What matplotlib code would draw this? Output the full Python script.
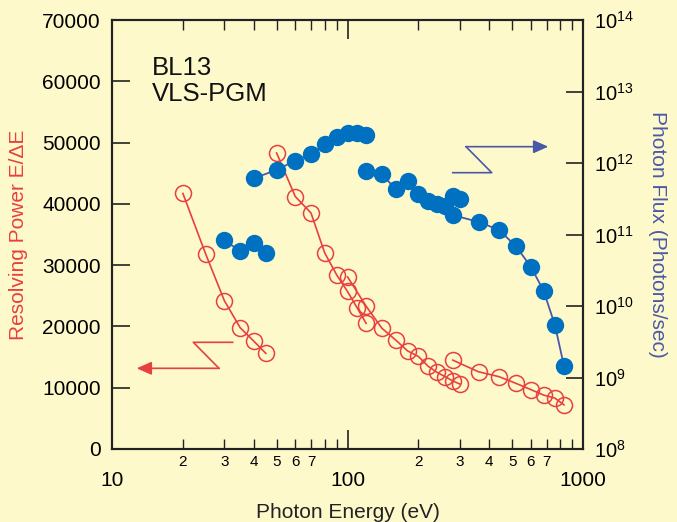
import matplotlib
matplotlib.use("Agg")
import matplotlib.pyplot as plt
from matplotlib.ticker import FixedLocator, FixedFormatter

plt.rcParams['font.family'] = ['Liberation Sans', 'DejaVu Sans']
plt.rcParams['mathtext.fontset'] = 'custom'
plt.rcParams['mathtext.rm'] = 'Liberation Sans'
plt.rcParams['mathtext.it'] = 'Liberation Sans:italic'

# ---- data ----
rp_e1 = [20, 25, 30, 35, 40, 45]
rp1 = [41700, 31800, 24200, 19800, 17600, 15600]
rp_e2 = [50, 60, 70, 80, 90, 100, 110, 120]
rp2 = [48300, 41200, 38500, 32000, 28400, 25700, 23000, 20500]
rp_e3 = [100, 120, 140, 160, 180, 200, 220, 240, 260, 280, 300]
rp3 = [28100, 23300, 19700, 17800, 16000, 15100, 13500, 12500, 11800, 11100, 10600]
rp_e4 = [280, 360, 440, 520, 600, 680, 760, 830]
rp4 = [14500, 12600, 11800, 10700, 9700, 8800, 8300, 7200]

flux_e1 = [30, 35, 40, 45]
flux1 = [8.4e10, 5.8e10, 7.5e10, 5.5e10]
flux_e2 = [40, 50, 60, 70, 80, 90, 100, 110, 120]
flux2 = [6.1e11, 8.0e11, 1.08e12, 1.32e12, 1.83e12, 2.33e12, 2.6e12, 2.65e12, 2.46e12]
flux_e3 = [120, 140, 160, 180, 200, 220, 240, 260, 280, 300]
flux3 = [7.7e11, 7.0e11, 4.3e11, 5.6e11, 3.65e11, 2.9e11, 2.7e11, 2.5e11, 3.4e11, 3.1e11]
flux_e4 = [280, 360, 440, 520, 600, 680, 760, 830]
flux4 = [1.87e11, 1.5e11, 1.16e11, 6.8e10, 3.55e10, 1.64e10, 5.4e9, 1.46e9]

x_major = [10, 100, 1000]
x_major_labels = ['10', '100', '1000']
x_minor_digits = ['2', '3', '4', '5', '6', '7', '', '']
rp_ticks = [0, 10000, 20000, 30000, 40000, 50000, 60000, 70000]
flux_ticks = [1e8, 1e9, 1e10, 1e11, 1e12, 1e13, 1e14]

# ---- style ----
BG = '#fdf9cb'
RED = '#e8403f'
BLUE_M = '#0070c0'
BLUE_L = '#4a58a8'
INK = '#222222'

fig = plt.figure(figsize=(6.77, 5.22), dpi=100, facecolor=BG)
ax = fig.add_axes([112/677, 1-449/522, 471/677, 429/522])
ax.set_facecolor(BG)
ax2 = ax.twinx()

for s in list(ax.spines.values()) + list(ax2.spines.values()):
    s.set_linewidth(1.5)
    s.set_color(INK)

# resolving power (left)
for e, r in [(rp_e1, rp1), (rp_e2, rp2), (rp_e3, rp3), (rp_e4, rp4)]:
    ax.plot(e, r, '-', color=RED, lw=1.2, marker='o', ms=11.5,
            mfc='none', mec=RED, mew=1.1, zorder=3)

# flux (right)
for e, f in [(flux_e1, flux1), (flux_e2, flux2), (flux_e3, flux3), (flux_e4, flux4)]:
    ax2.plot(e, f, '-', color=BLUE_L, lw=1.3, marker='o', ms=11.5,
             mfc=BLUE_M, mec=BLUE_M, zorder=2)

ax.set_xscale('log')
ax.set_xlim(10, 1000)
ax.set_ylim(0, 70000)
ax2.set_yscale('log')
ax2.set_ylim(1e8, 1e14)

# x ticks
minor_locs = [m * d for d in (10, 100) for m in range(2, 10)]
ax.xaxis.set_major_locator(FixedLocator(x_major))
ax.xaxis.set_major_formatter(FixedFormatter(x_major_labels))
ax.xaxis.set_minor_locator(FixedLocator(minor_locs))
ax.xaxis.set_minor_formatter(FixedFormatter(x_minor_digits * 2))
ax.tick_params(axis='x', which='major', direction='in', length=14, width=1.2,
               color=INK, top=True, labelsize=15, pad=16)
ax.tick_params(axis='x', which='minor', direction='in', length=7, width=1.0,
               color=INK, top=True, labelsize=11, pad=4)

ax.set_yticks(rp_ticks)
ax.set_yticklabels([str(t) for t in rp_ticks])
ax.tick_params(axis='y', which='major', direction='in', length=13, width=1.2,
               color=INK, labelsize=15, pad=8, right=False)

ax2.yaxis.set_major_locator(FixedLocator(flux_ticks))
ax2.set_yticklabels([r'$10^{%d}$' % i for i in range(8, 15)])
ax2.yaxis.set_minor_locator(FixedLocator([]))
ax2.tick_params(axis='y', which='major', direction='in', length=12, width=1.2,
                color=INK, labelsize=14.5, pad=8)

ax.set_xlabel('Photon Energy (eV)', fontsize=15, color=INK, labelpad=9)
ax.set_ylabel('Resolving Power E/ΔE', fontsize=15, color=RED, labelpad=10)
ax2.set_ylabel('Photon Flux (Photons/sec)', fontsize=15, color=BLUE_L,
               rotation=270, labelpad=24)

ax.text(0.085, 0.915, 'BL13\nVLS-PGM', transform=ax.transAxes, fontsize=18.5,
        va='top', ha='left', color='#111111', linespacing=1.1)

# direction arrows (axes fraction)
ax.plot([0.2563, 0.1726, 0.2272], [0.2487, 0.2487, 0.1881], color=RED, lw=1.2,
        transform=ax.transAxes, zorder=4)
ax.annotate('', xy=(0.0524, 0.1881), xytext=(0.2272, 0.1881),
            xycoords='axes fraction', textcoords='axes fraction',
            arrowprops=dict(arrowstyle='-|>,head_length=0.9,head_width=0.4',
                            color=RED, lw=1.2, shrinkA=0, shrinkB=0))
ax.plot([0.7234, 0.8062, 0.7516], [0.6441, 0.6441, 0.7047], color=BLUE_L, lw=1.2,
        transform=ax.transAxes, zorder=4)
ax.annotate('', xy=(0.9263, 0.7047), xytext=(0.7516, 0.7047),
            xycoords='axes fraction', textcoords='axes fraction',
            arrowprops=dict(arrowstyle='-|>,head_length=0.9,head_width=0.4',
                            color=BLUE_L, lw=1.2, shrinkA=0, shrinkB=0))

fig.savefig('out.png', dpi=100, facecolor=BG)
